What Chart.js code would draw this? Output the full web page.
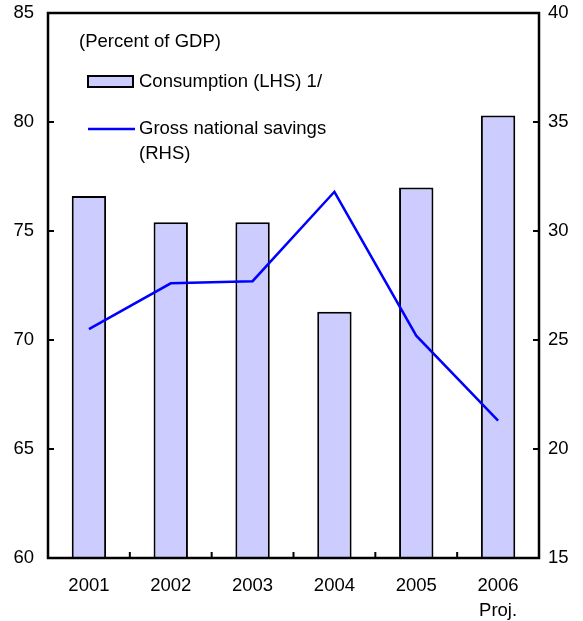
<!DOCTYPE html>
<html>
<head>
<meta charset="utf-8">
<script src="https://cdn.jsdelivr.net/npm/chart.js@4.4.1/dist/chart.umd.min.js"></script>
<style>
  html, body { margin: 0; padding: 0; background: #fff; }
  #wrap { width: 583px; height: 621px; }
</style>
</head>
<body>
<div id="wrap"><canvas id="chart" width="583" height="621"></canvas></div>
<script>
const years = ['2001', '2002', '2003', '2004', '2005', ['2006', 'Proj.']];
const consumption = [76.6, 75.4, 75.4, 71.3, 77.0, 80.3];   // LHS
const savings = [25.5, 27.6, 27.7, 31.8, 25.2, 21.3];       // RHS
const leftTicks = [60, 65, 70, 75, 80, 85];
const rightTicks = [15, 20, 25, 30, 35, 40];

const FONT = '"Liberation Sans", Arial, sans-serif';
const FONT_SIZE = 18.5;

// box around the plot, inward tick marks and the in-plot legend
const framePlugin = {
  id: 'frame',
  afterDatasetsDraw(chart) {
    const ctx = chart.ctx;
    const a = chart.chartArea;
    const sx = chart.scales.x, sy = chart.scales.y, sy1 = chart.scales.y1;
    ctx.save();
    ctx.strokeStyle = '#000';
    ctx.lineWidth = 2.5;
    ctx.strokeRect(a.left, a.top, a.right - a.left, a.bottom - a.top);

    ctx.lineWidth = 2;
    ctx.beginPath();
    leftTicks.forEach(v => {
      const y = sy.getPixelForValue(v);
      ctx.moveTo(a.left, y); ctx.lineTo(a.left + 6, y);
    });
    rightTicks.forEach(v => {
      const y = sy1.getPixelForValue(v);
      ctx.moveTo(a.right, y); ctx.lineTo(a.right - 6, y);
    });
    for (let i = 1; i < years.length; i++) {
      const x = sx.getPixelForValue(i - 0.5);
      ctx.moveTo(x, a.bottom); ctx.lineTo(x, a.bottom - 6);
    }
    ctx.stroke();

    // legend
    ctx.font = FONT_SIZE + 'px ' + FONT;
    ctx.fillStyle = '#000';
    ctx.textBaseline = 'middle';
    ctx.textAlign = 'left';
    ctx.fillText('(Percent of GDP)', 79, 42);

    ctx.fillStyle = '#CCCCFF';
    ctx.fillRect(88, 76, 45, 11);
    ctx.strokeStyle = '#000';
    ctx.lineWidth = 2;
    ctx.strokeRect(88, 76, 45, 11);
    ctx.fillStyle = '#000';
    ctx.fillText('Consumption (LHS) 1/', 139, 82);

    ctx.strokeStyle = '#0000FF';
    ctx.lineWidth = 2.5;
    ctx.beginPath();
    ctx.moveTo(88, 129); ctx.lineTo(135, 129);
    ctx.stroke();
    ctx.fillText('Gross national savings', 139, 129);
    ctx.fillText('(RHS)', 139, 154);
    ctx.restore();
  }
};

// fixed axis widths, no extra room reserved for the end labels
function fixWidth(w) {
  return s => { s.width = w; s.paddingTop = 0; s.paddingBottom = 0; };
}

new Chart(document.getElementById('chart'), {
  data: {
    labels: years,
    datasets: [
      {
        type: 'line',
        label: 'Gross national savings (RHS)',
        data: savings,
        yAxisID: 'y1',
        borderColor: '#0000FF',
        borderWidth: 2.5,
        pointRadius: 0,
        tension: 0,
        order: 0
      },
      {
        type: 'bar',
        label: 'Consumption (LHS) 1/',
        data: consumption,
        yAxisID: 'y',
        backgroundColor: '#CCCCFF',
        borderColor: '#000',
        borderWidth: 2,
        barPercentage: 0.42,
        categoryPercentage: 1,
        order: 1
      }
    ]
  },
  options: {
    responsive: false,
    animation: false,
    layout: { padding: { top: 13, left: 0, right: 0, bottom: 0 } },
    plugins: { legend: { display: false }, tooltip: { enabled: false } },
    scales: {
      x: {
        offset: true,
        grid: { display: false, drawTicks: false },
        border: { display: false },
        ticks: { color: '#000', font: { family: FONT, size: FONT_SIZE, lineHeight: 1.35 }, padding: 15, maxRotation: 0 },
        afterFit(s) { s.height = 63; }
      },
      y: {
        position: 'left',
        min: 60, max: 85,
        afterBuildTicks(s) { s.ticks = leftTicks.map(v => ({ value: v })); },
        grid: { display: false, drawTicks: false },
        border: { display: false },
        ticks: { color: '#000', font: { family: FONT, size: FONT_SIZE }, padding: 14 },
        afterFit: fixWidth(48)
      },
      y1: {
        position: 'right',
        min: 15, max: 40,
        afterBuildTicks(s) { s.ticks = rightTicks.map(v => ({ value: v })); },
        grid: { display: false, drawTicks: false },
        border: { display: false },
        ticks: { color: '#000', font: { family: FONT, size: FONT_SIZE }, padding: 9 },
        afterFit: fixWidth(44)
      }
    }
  },
  plugins: [framePlugin]
});
</script>
</body>
</html>
